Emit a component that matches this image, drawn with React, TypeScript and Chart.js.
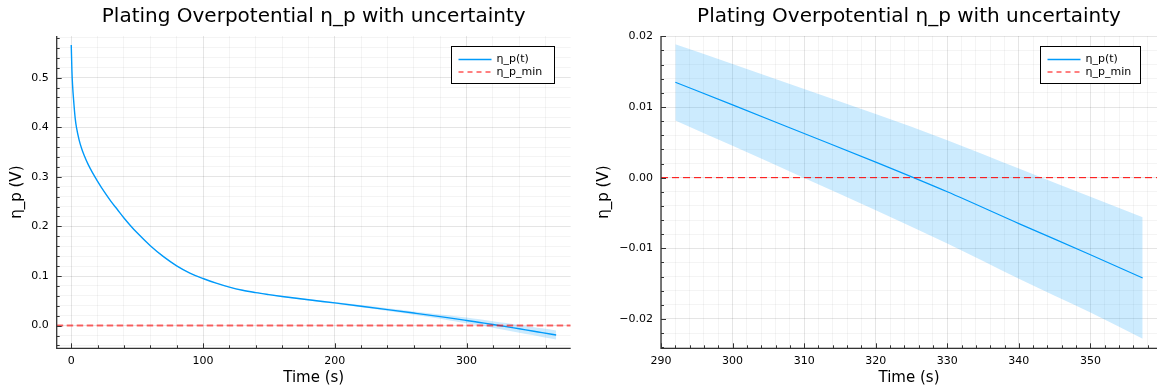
import React, { useEffect, useRef } from 'react';
import { Chart, registerables } from 'chart.js';

Chart.register(...registerables);

// ---------- text ----------
const TITLE = 'Plating Overpotential η_p with uncertainty';
const X_LABEL = 'Time (s)';
const Y_LABEL = 'η_p (V)';
const SERIES_MEAN = 'η_p(t)';
const SERIES_MIN = 'η_p_min';

// ---------- data ----------
const ETA_P_MIN = 0;
const timeS = [0, 0.5, 1, 2, 3, 4, 6, 8, 10, 13, 16, 20, 25, 30, 35, 40, 45, 50, 60, 70, 80, 90, 100, 110, 120, 130, 140, 150, 160, 180, 200, 220, 240, 260, 280, 292, 300, 310, 320, 330, 340, 350, 357.3, 368];
const etaMean = [0.566, 0.515, 0.485, 0.448, 0.418, 0.399, 0.374, 0.356, 0.342, 0.324, 0.309, 0.291, 0.27, 0.251, 0.234, 0.217, 0.2015, 0.187, 0.161, 0.139, 0.1205, 0.106, 0.095, 0.0855, 0.0775, 0.0712, 0.0665, 0.0625, 0.0588, 0.0521, 0.0457, 0.0391, 0.0323, 0.0253, 0.0181, 0.0135, 0.0103, 0.00625, 0.0022, -0.002, -0.0065, -0.0109, -0.0142, -0.019];
const etaLower = [0.5655, 0.5145, 0.4845, 0.4475, 0.4175, 0.3985, 0.3735, 0.3555, 0.3415, 0.3235, 0.3085, 0.2905, 0.2695, 0.2505, 0.2335, 0.2165, 0.201, 0.1865, 0.1605, 0.1385, 0.12, 0.1055, 0.0945, 0.0849, 0.0767, 0.0703, 0.0655, 0.0614, 0.0576, 0.0506, 0.0439, 0.0369, 0.0296, 0.022, 0.0139, 0.0081, 0.0045, -0.00005, -0.0046, -0.0093, -0.0143, -0.0191, -0.0228, -0.028];
const etaUpper = [0.5665, 0.5155, 0.4855, 0.4485, 0.4185, 0.3995, 0.3745, 0.3565, 0.3425, 0.3245, 0.3095, 0.2915, 0.2705, 0.2515, 0.2345, 0.2175, 0.202, 0.1875, 0.1615, 0.1395, 0.121, 0.1065, 0.0955, 0.0861, 0.0783, 0.0721, 0.0675, 0.0636, 0.06, 0.0536, 0.0475, 0.0413, 0.035, 0.0286, 0.0223, 0.0189, 0.0161, 0.01255, 0.009, 0.0053, 0.0013, -0.0027, -0.0056, -0.01];
const ZOOM_START = 292;
const ZOOM_END = 357.3;

// ---------- ticks ----------
const leftXTicks = [0, 100, 200, 300];
const leftYTicks = [0, 0.1, 0.2, 0.3, 0.4, 0.5];
const rightXTicks = [290, 300, 310, 320, 330, 340, 350];
const rightYTicks = [-0.02, -0.01, 0, 0.01, 0.02];

const FONT = "'DejaVu Sans', sans-serif";
const BLUE = 'rgb(0,154,250)';
const BAND = 'rgba(0,154,250,0.2)';
const H = 389;

type Cfg = {
  width: number;
  xMin: number; xMax: number; yMin: number; yMax: number;
  xMajor: number[]; yMajor: number[];
  xMinor: number; yMinor: number;
  yDec: number;
  plotLeft: number; padRight: number;
  yLabelOffset: number;
  legendW: number;
  hColor: string; hWidth: number; hDash: number[];
  lineW: number;
  t: number[]; m: number[]; lo: number[]; up: number[];
};

function buildTicks(min: number, max: number, step: number) {
  const out: number[] = [];
  let k = Math.ceil(min / step - 1e-9);
  while (k * step <= max + 1e-9) {
    out.push(Math.round(k * step * 1e9) / 1e9);
    k++;
  }
  return out;
}
const isMajor = (v: number, majors: number[]) => majors.some((m) => Math.abs(m - v) < 1e-9);
const fmt = (v: number, dec: number) => {
  const s = Math.abs(v).toFixed(dec);
  return (v < -1e-12 ? '\u2212' : '') + s;
};

function framePlugin(cfg: Cfg) {
  return {
    id: 'frame',
    afterDatasetsDraw(chart: any) {
      const { ctx, chartArea: a, scales } = chart;
      const y = scales.y.getPixelForValue(ETA_P_MIN);
      ctx.save();
      ctx.beginPath();
      ctx.rect(a.left, a.top, a.right - a.left, a.bottom - a.top);
      ctx.clip();
      ctx.strokeStyle = cfg.hColor;
      ctx.lineWidth = cfg.hWidth;
      ctx.setLineDash(cfg.hDash);
      ctx.beginPath();
      ctx.moveTo(a.left, y);
      ctx.lineTo(a.right, y);
      ctx.stroke();
      ctx.restore();
    },
    afterDraw(chart: any) {
      const { ctx, chartArea: a, scales } = chart;
      ctx.save();
      // axis lines
      ctx.strokeStyle = '#333';
      ctx.lineWidth = 1.3;
      ctx.beginPath();
      ctx.moveTo(a.left, a.top);
      ctx.lineTo(a.left, a.bottom);
      ctx.lineTo(a.right, a.bottom);
      ctx.stroke();
      // inward ticks
      ctx.lineWidth = 1;
      for (const v of buildTicks(cfg.xMin, cfg.xMax, cfg.xMinor)) {
        const px = Math.round(scales.x.getPixelForValue(v)) + 0.5;
        const L = isMajor(v, cfg.xMajor) ? 5 : 3;
        ctx.beginPath();
        ctx.moveTo(px, a.bottom);
        ctx.lineTo(px, a.bottom - L);
        ctx.stroke();
      }
      for (const v of buildTicks(cfg.yMin, cfg.yMax, cfg.yMinor)) {
        const py = Math.round(scales.y.getPixelForValue(v)) + 0.5;
        const L = isMajor(v, cfg.yMajor) ? 5 : 3;
        ctx.beginPath();
        ctx.moveTo(a.left, py);
        ctx.lineTo(a.left + L, py);
        ctx.stroke();
      }
      // title
      ctx.fillStyle = '#000';
      ctx.textAlign = 'center';
      ctx.textBaseline = 'middle';
      ctx.font = `20px ${FONT}`;
      ctx.fillText(TITLE, (a.left + a.right) / 2, 17);
      // axis titles
      ctx.font = `15px ${FONT}`;
      ctx.fillText(X_LABEL, (a.left + a.right) / 2, 378);
      ctx.save();
      ctx.translate(a.left - cfg.yLabelOffset, (a.top + a.bottom) / 2);
      ctx.rotate(-Math.PI / 2);
      ctx.fillText(Y_LABEL, 0, 0);
      ctx.restore();
      // legend
      const bw = cfg.legendW;
      const bh = 37;
      const bx = Math.round(a.right - 17 - bw) + 0.5;
      const by = Math.round(a.top + 10) + 0.5;
      ctx.fillStyle = '#fff';
      ctx.fillRect(bx, by, bw, bh);
      ctx.strokeStyle = '#000';
      ctx.lineWidth = 1;
      ctx.strokeRect(bx, by, bw, bh);
      const r1 = by + 13;
      const r2 = by + 25.5;
      ctx.strokeStyle = BLUE;
      ctx.lineWidth = 1.5;
      ctx.beginPath();
      ctx.moveTo(bx + 7, r1);
      ctx.lineTo(bx + 40, r1);
      ctx.stroke();
      ctx.strokeStyle = 'rgb(255,0,0)';
      ctx.lineWidth = 1.2;
      ctx.setLineDash([5, 4]);
      ctx.beginPath();
      ctx.moveTo(bx + 7, r2);
      ctx.lineTo(bx + 40, r2);
      ctx.stroke();
      ctx.setLineDash([]);
      ctx.fillStyle = '#000';
      ctx.textAlign = 'left';
      ctx.font = `11px ${FONT}`;
      ctx.fillText(SERIES_MEAN, bx + 45, r1);
      ctx.fillText(SERIES_MIN, bx + 45, r2);
      ctx.restore();
    },
  };
}

function makeConfig(cfg: Cfg): any {
  const pts = (vals: number[]) => cfg.t.map((x, i) => ({ x, y: vals[i] }));
  const gridColor = (major: number[]) => (c: any) =>
    c.tick && isMajor(c.tick.value, major) ? 'rgba(0,0,0,0.1)' : 'rgba(0,0,0,0.045)';
  return {
    type: 'line',
    data: {
      datasets: [
        { data: pts(cfg.up), borderWidth: 0, pointRadius: 0, fill: false, cubicInterpolationMode: 'monotone', borderColor: 'transparent' },
        { data: pts(cfg.lo), borderWidth: 0, pointRadius: 0, fill: '-1', backgroundColor: BAND, cubicInterpolationMode: 'monotone', borderColor: 'transparent' },
        { label: SERIES_MEAN, data: pts(cfg.m), borderColor: BLUE, borderWidth: cfg.lineW, pointRadius: 0, fill: false, cubicInterpolationMode: 'monotone' },
      ],
    },
    options: {
      animation: false,
      responsive: false,
      events: [],
      layout: { padding: { top: 36, right: cfg.padRight, left: 0, bottom: 0 } },
      plugins: { legend: { display: false }, title: { display: false }, tooltip: { enabled: false } },
      scales: {
        x: {
          type: 'linear',
          min: cfg.xMin,
          max: cfg.xMax,
          afterBuildTicks: (s: any) => {
            s.ticks = buildTicks(cfg.xMin, cfg.xMax, cfg.xMinor).map((value) => ({ value }));
          },
          afterFit: (s: any) => { s.height = H - 348.3; },
          grid: { color: gridColor(cfg.xMajor), drawTicks: false, lineWidth: 1 },
          border: { display: false },
          ticks: {
            autoSkip: false, maxRotation: 0, minRotation: 0, padding: 6, color: '#000',
            font: { family: FONT, size: 11 },
            callback: (v: number) => (isMajor(v, cfg.xMajor) ? fmt(v, 0) : ''),
          },
        },
        y: {
          type: 'linear',
          min: cfg.yMin,
          max: cfg.yMax,
          afterBuildTicks: (s: any) => {
            s.ticks = buildTicks(cfg.yMin, cfg.yMax, cfg.yMinor).map((value) => ({ value }));
          },
          afterFit: (s: any) => { s.width = cfg.plotLeft; },
          grid: { color: gridColor(cfg.yMajor), drawTicks: false, lineWidth: 1 },
          border: { display: false },
          ticks: {
            autoSkip: false, padding: 8, color: '#000',
            font: { family: FONT, size: 11 },
            callback: (v: number) => (isMajor(v, cfg.yMajor) ? fmt(v, cfg.yDec) : ''),
          },
        },
      },
    },
    plugins: [framePlugin(cfg)],
  };
}

function Panel({ cfg, left }: { cfg: Cfg; left: number }) {
  const ref = useRef<HTMLCanvasElement>(null);
  useEffect(() => {
    if (!ref.current) return;
    const chart = new Chart(ref.current, makeConfig(cfg));
    return () => chart.destroy();
  }, []);
  return (
    <canvas
      ref={ref}
      width={cfg.width}
      height={H}
      style={{ position: 'absolute', left, top: 0, width: cfg.width, height: H }}
    />
  );
}

const zoomIdx = timeS.map((t, i) => i).filter((i) => timeS[i] >= ZOOM_START - 1e-6 && timeS[i] <= ZOOM_END + 1e-6);
const pick = (arr: number[]) => zoomIdx.map((i) => arr[i]);

const leftCfg: Cfg = {
  width: 578,
  xMin: -11.04, xMax: 379.04, yMin: -0.0458, yMax: 0.584,
  xMajor: leftXTicks, yMajor: leftYTicks, xMinor: 20, yMinor: 0.02, yDec: 1,
  plotLeft: 56.7, padRight: 7.3, yLabelOffset: 39.5, legendW: 103,
  hColor: 'rgba(255,0,0,0.6)', hWidth: 2, hDash: [6.5, 3.5], lineW: 1.4,
  t: timeS, m: etaMean, lo: etaLower, up: etaUpper,
};

const rightCfg: Cfg = {
  width: 579,
  xMin: 290.0, xMax: 359.3, yMin: -0.02415, yMax: 0.02005,
  xMajor: rightXTicks, yMajor: rightYTicks, xMinor: 2, yMinor: 0.002, yDec: 2,
  plotLeft: 83, padRight: 0, yLabelOffset: 57, legendW: 100,
  hColor: 'rgb(255,0,0)', hWidth: 1, hDash: [7, 4], lineW: 1.2,
  t: pick(timeS), m: pick(etaMean), lo: pick(etaLower), up: pick(etaUpper),
};

export default function App() {
  return (
    <div style={{ position: 'absolute', left: 0, top: 0, width: 1157, height: H, background: '#fff' }}>
      <Panel cfg={leftCfg} left={0} />
      <Panel cfg={rightCfg} left={578} />
    </div>
  );
}
